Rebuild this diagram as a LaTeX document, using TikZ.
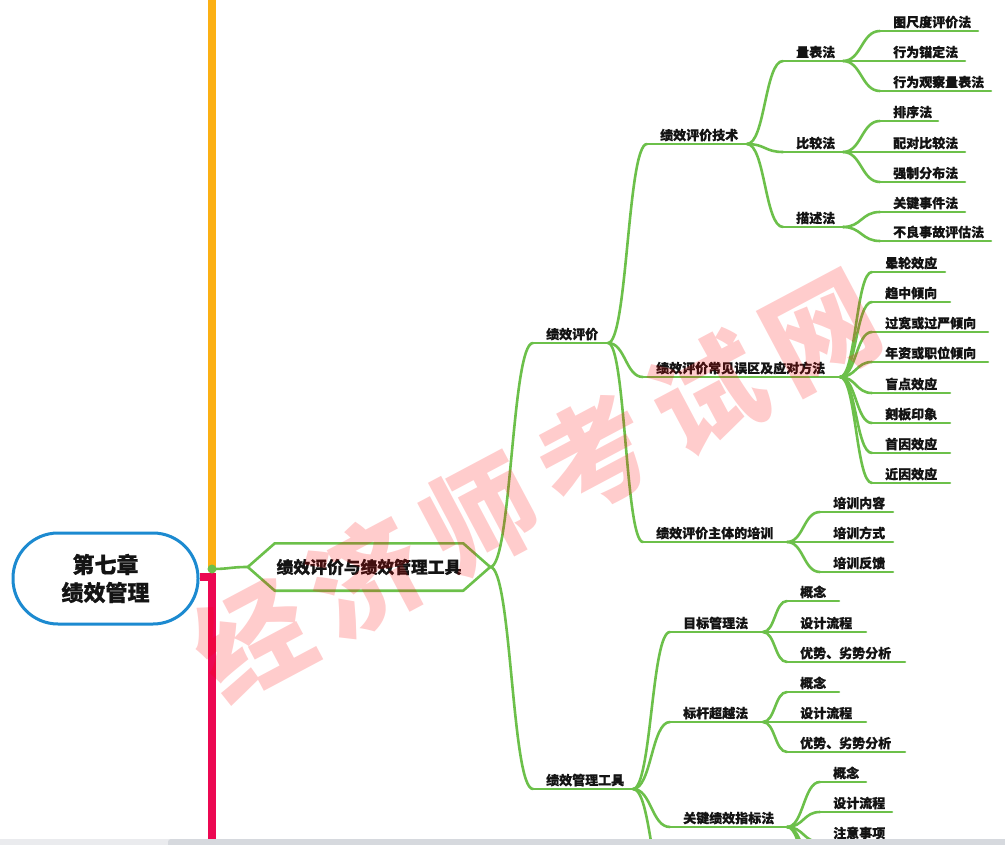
\documentclass[tikz,border=0pt]{standalone}
\usepackage{fontspec}
\newfontfamily\cjk{Noto Sans CJK SC}[BoldFeatures={FakeBold=0.6}]
\newfontfamily\wmfont{Noto Sans CJK SC}
\usetikzlibrary{calc}
\definecolor{branchgreen}{RGB}{108,192,74}
\definecolor{rootblue}{RGB}{28,138,208}
\definecolor{spineorange}{RGB}{252,176,20}
\definecolor{spinered}{RGB}{236,8,82}
\definecolor{inkdark}{RGB}{20,20,20}
\definecolor{barlight}{RGB}{234,235,238}
\definecolor{bardark}{RGB}{214,217,222}
\tikzset{
  rootbox/.style={draw=rootblue,line width=3pt,rounded corners=45pt,fill=white,
    minimum width=185pt,minimum height=91pt,align=center,
    font=\cjk\bfseries\fontsize{22}{28}\selectfont,text=inkdark},
  hexbox/.style={minimum width=188pt,minimum height=47pt,inner sep=0pt,
    font=\cjk\bfseries\fontsize{16.8}{20}\selectfont,text=inkdark},
  hexline/.style={draw=branchgreen,line width=2.6pt,line join=round},
  topictext/.style={anchor=base west,inner sep=0pt,
    font=\cjk\bfseries\fontsize{13}{15}\selectfont,text=inkdark},
  topicline/.style={draw=branchgreen,line width=2.6pt,line cap=round},
  branchline/.style={draw=branchgreen,line width=2.6pt,line cap=round},
  spine/.style={line width=8.5pt},
  wmark/.style={text=red,text opacity=0.2,
    font=\wmfont\bfseries\fontsize{112}{112}\selectfont,rotate=28}
}
% one topic of the map: name, start of its underline (x,y), underline length, text
\newcommand{\mmitem}[5]{%
  \coordinate (#1-l) at (#2,#3);
  \coordinate (#1-r) at (#2+#4,#3);
  \draw[topicline] (#1-l) -- (#1-r);
  \node[topictext] (#1) at (#2+13,#3-4) {#5};
}
% curved branch from one point to another
\newcommand{\mmlink}[2]{%
  \draw[branchline] let \p1=(#1),\p2=(#2) in
    (\p1) .. controls ({(\x1+\x2)/2},\y1) and ({(\x1+\x2)/2},\y2) .. (\p2);
}
\begin{document}
\begin{tikzpicture}[x=1pt,y=-1pt]
  \fill[white] (0,0) rectangle (1005,845);
  \useasboundingbox (0,0) rectangle (1005,845);

  % neighbouring chapters
  \coordinate (prevtop) at (212,0);
  \coordinate (prevend) at (212,569);
  \coordinate (nextstart) at (200,577);
  \coordinate (nextbend) at (212,577);
  \coordinate (nextend) at (212,860);
  \draw[spine,spineorange] (prevtop) -- (prevend);
  \draw[spine,spinered] (nextstart) -- (nextbend) -- (nextend);

  % chapter and main topic
  \node[rootbox] (root) at (105.5,578.5) {第七章\\绩效管理};
  \node[hexbox] (hex) at (369,567) {绩效评价与绩效管理工具};
  \coordinate (hex-in) at ([xshift=-27pt]hex.west);
  \coordinate (hex-out) at ([xshift=27pt]hex.east);
  \draw[hexline] (hex-in) -- (hex.north west) -- (hex.north east) -- (hex-out)
    -- (hex.south east) -- (hex.south west) -- cycle;
  \coordinate (rootport) at (212,569);
  \mmlink{rootport}{hex-in}
  \fill[branchgreen] (rootport) circle (4.5pt);

  % level 2
  \mmitem{pe}{533}{343}{75}{绩效评价}
  \mmitem{pmt}{533}{789}{100}{绩效管理工具}
  \mmlink{hex-out}{pe-l}
  \mmlink{hex-out}{pmt-l}

  % performance evaluation
  \mmitem{tech}{647}{144}{100}{绩效评价技术}
  \mmitem{err}{643}{377}{197}{绩效评价常见误区及应对方法}
  \mmitem{train}{643}{542}{144}{绩效评价主体的培训}
  \mmlink{pe-r}{tech-l}
  \mmlink{pe-r}{err-l}
  \mmlink{pe-r}{train-l}

  \mmitem{scale}{783}{61}{60}{量表法}
  \mmitem{comp}{783}{152}{60}{比较法}
  \mmitem{desc}{783}{227}{60}{描述法}
  \mmlink{tech-r}{scale-l}
  \mmlink{tech-r}{comp-l}
  \mmlink{tech-r}{desc-l}

  \mmitem{graph}{880}{31}{98}{图尺度评价法}
  \mmitem{bars}{880}{61}{85}{行为锚定法}
  \mmitem{bos}{880}{91}{111}{行为观察量表法}
  \mmitem{rank}{880}{121}{58}{排序法}
  \mmitem{pair}{880}{152}{85}{配对比较法}
  \mmitem{force}{880}{182}{85}{强制分布法}
  \mmitem{crit}{880}{212}{85}{关键事件法}
  \mmitem{bad}{880}{241}{111}{不良事故评估法}
  \foreach \kid in {graph,bars,bos} {\mmlink{scale-r}{\kid-l}}
  \foreach \kid in {rank,pair,force} {\mmlink{comp-r}{\kid-l}}
  \foreach \kid in {crit,bad} {\mmlink{desc-r}{\kid-l}}

  \mmitem{halo}{872}{272}{73}{晕轮效应}
  \mmitem{central}{872}{302}{78}{趋中倾向}
  \mmitem{lenient}{872}{332}{116}{过宽或过严倾向}
  \mmitem{senior}{872}{362}{116}{年资或职位倾向}
  \mmitem{blind}{872}{393}{78}{盲点效应}
  \mmitem{stereo}{872}{423}{78}{刻板印象}
  \mmitem{primacy}{872}{453}{78}{首因效应}
  \mmitem{recency}{872}{483}{78}{近因效应}
  \foreach \kid in {halo,central,lenient,senior,blind,stereo,primacy,recency}
    {\mmlink{err-r}{\kid-l}}

  \mmitem{tcont}{820}{512}{73}{培训内容}
  \mmitem{tway}{820}{542}{73}{培训方式}
  \mmitem{tfeed}{820}{572}{73}{培训反馈}
  \foreach \kid in {tcont,tway,tfeed} {\mmlink{train-r}{\kid-l}}

  % performance management tools
  \mmitem{mbo}{670}{632}{93}{目标管理法}
  \mmitem{bench}{670}{722}{93}{标杆超越法}
  \mmitem{kpi}{670}{827}{117}{关键绩效指标法}
  \coordinate (pmt-more) at (670,900);
  \foreach \kid in {mbo,bench,kpi} {\mmlink{pmt-r}{\kid-l}}
  \mmlink{pmt-r}{pmt-more}

  \mmitem{mboa}{787}{601}{52}{概念}
  \mmitem{mbob}{787}{632}{79}{设计流程}
  \mmitem{mboc}{787}{662}{118}{优势、劣势分析}
  \foreach \kid in {mboa,mbob,mboc} {\mmlink{mbo-r}{\kid-l}}

  \mmitem{bencha}{787}{692}{52}{概念}
  \mmitem{benchb}{787}{722}{79}{设计流程}
  \mmitem{benchc}{787}{752}{118}{优势、劣势分析}
  \foreach \kid in {bencha,benchb,benchc} {\mmlink{bench-r}{\kid-l}}

  \mmitem{kpia}{820}{782}{46}{概念}
  \mmitem{kpib}{820}{812}{72}{设计流程}
  \mmitem{kpic}{820}{842}{72}{注意事项}
  \coordinate (kpi-more1) at (820,872);
  \coordinate (kpi-more2) at (820,902);
  \foreach \kid in {kpia,kpib,kpic} {\mmlink{kpi-r}{\kid-l}}
  \mmlink{kpi-r}{kpi-more1}
  \mmlink{kpi-r}{kpi-more2}

  % watermark
  \foreach \ch [count=\i from 0] in {经,济,师,考,试,网}
    \node[wmark] (wm\i) at ($(252,638)+\i*(114,-61)$) {\ch};

  % scroll bar
  \fill[barlight] (0,839) rectangle (1005,845);
  \fill[bardark,rounded corners=3pt] (168,839) rectangle (1010,850);
\end{tikzpicture}
\end{document}
